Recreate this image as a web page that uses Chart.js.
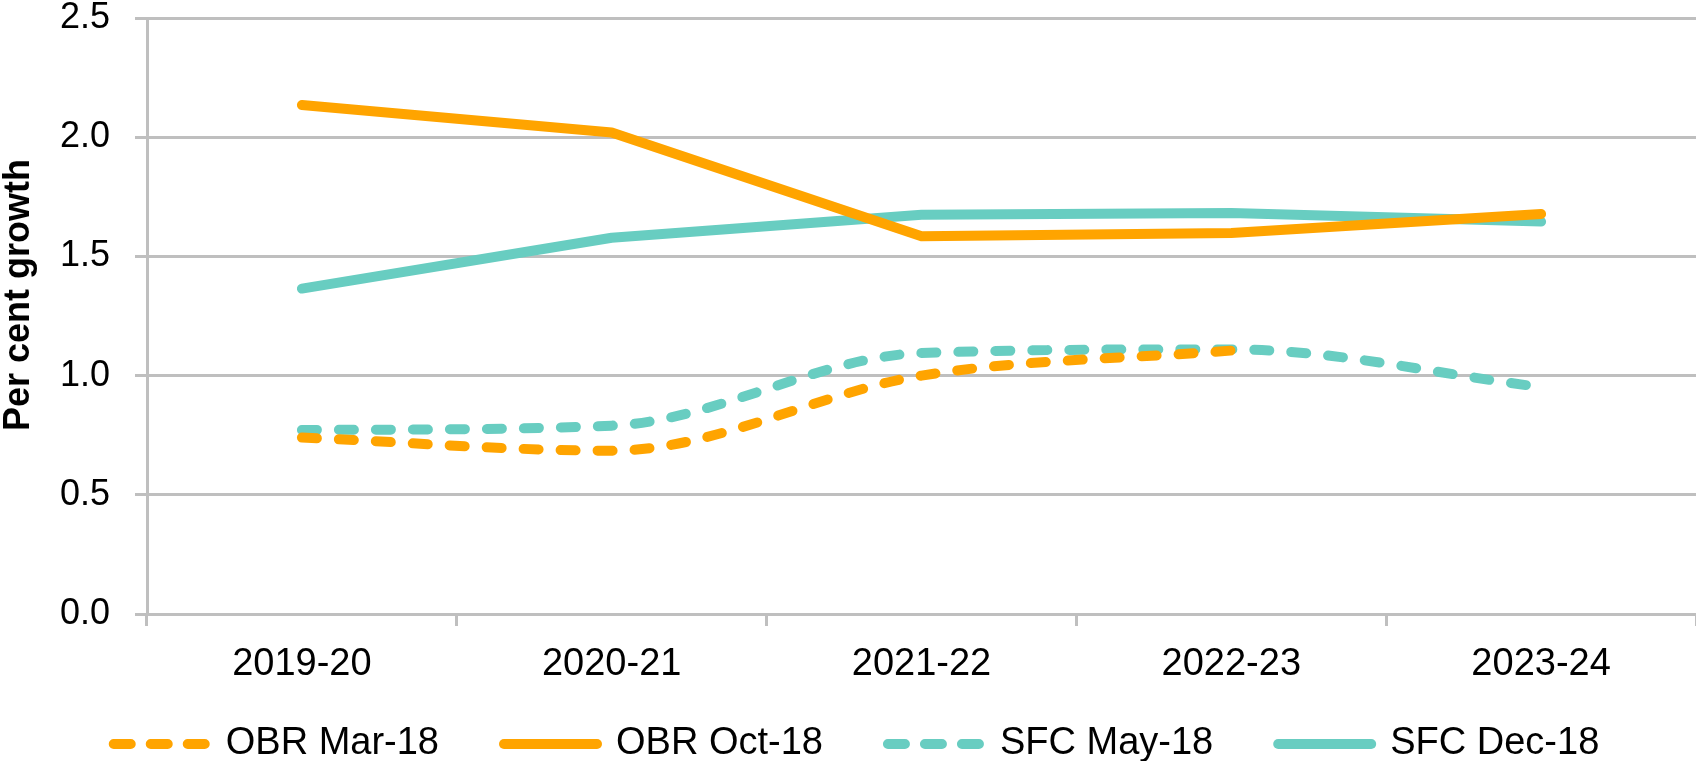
<!DOCTYPE html>
<html>
<head>
<meta charset="utf-8">
<script src="https://cdn.jsdelivr.net/npm/chart.js@4.4.1/dist/chart.umd.min.js"></script>
<style>
  html, body { margin: 0; padding: 0; background: #fff; }
  #wrap { width: 1696px; height: 761px; }
</style>
</head>
<body>
<div id="wrap"><canvas id="chart"></canvas></div>
<script>
const years = ['2019-20', '2020-21', '2021-22', '2022-23', '2023-24'];
const obrMar18 = [0.74, 0.685, 1.0, 1.105];
const obrOct18 = [2.135, 2.02, 1.585, 1.598, 1.678];
const sfcMay18 = [0.772, 0.79, 1.095, 1.11, 0.952];
const sfcDec18 = [1.365, 1.578, 1.675, 1.682, 1.646];

const orange = '#ffa400';
const teal = '#68cdc1';
const grey = '#bfbfbf';
const font = 'Liberation Sans, Arial, Helvetica, sans-serif';

Chart.defaults.font.family = font;
Chart.defaults.color = '#000';

// axis title drawn by hand so it can sit a little above the middle, like the original
const yTitle = {
  id: 'yTitle',
  afterDraw(chart) {
    const ctx = chart.ctx;
    ctx.save();
    ctx.translate(19, 295);
    ctx.rotate(-Math.PI / 2);
    ctx.font = 'bold 36px ' + font;
    ctx.fillStyle = '#000';
    ctx.textAlign = 'center';
    ctx.textBaseline = 'middle';
    ctx.fillText('Per cent growth', 0, 0);
    ctx.restore();
  }
};

function makeLine(label, data, color, dashed) {
  return {
    label,
    data,
    borderColor: color,
    backgroundColor: color,
    borderWidth: 10,
    borderDash: dashed ? [15, 22] : [],
    borderCapStyle: 'round',
    borderJoinStyle: 'round',
    cubicInterpolationMode: dashed ? 'monotone' : 'default',
    tension: 0,
    pointRadius: 0
  };
}

const ctx = document.getElementById('chart').getContext('2d');
new Chart(ctx, {
  type: 'line',
  data: {
    labels: years,
    datasets: [
      makeLine('OBR Mar-18', obrMar18, orange, true),
      makeLine('OBR Oct-18', obrOct18, orange, false),
      makeLine('SFC May-18', sfcMay18, teal, true),
      makeLine('SFC Dec-18', sfcDec18, teal, false)
    ]
  },
  options: {
    responsive: true,
    maintainAspectRatio: false,
    animation: false,
    layout: { padding: { top: 0, right: 0, bottom: -12, left: 17 } },
    plugins: {
      tooltip: { enabled: false },
      legend: {
        position: 'bottom',
        labels: {
          usePointStyle: true,
          pointStyle: 'line',
          pointStyleWidth: 93,
          padding: 65,
          font: { size: 38 },
          color: '#000',
          generateLabels(chart) {
            const items = Chart.defaults.plugins.legend.labels.generateLabels(chart);
            items.forEach(item => {
              const ds = chart.data.datasets[item.datasetIndex];
              item.lineDash = ds.borderDash.length ? [17, 20] : [];
              item.lineCap = 'round';
              item.lineWidth = 10;
              item.strokeStyle = ds.borderColor;
            });
            return items;
          }
        }
      }
    },
    scales: {
      x: {
        offset: true,
        afterFit(scale) {
          scale.height = 46;
          scale._computeLabelArea = () => undefined; // let labels spill past the short box
        },
        grid: {
          offset: true,
          drawOnChartArea: false,
          tickLength: 12,
          color: grey,
          lineWidth: 3
        },
        border: { display: true, color: grey, width: 3 },
        ticks: { font: { size: 38 }, padding: 16, color: '#000', maxRotation: 0 }
      },
      y: {
        min: 0,
        max: 2.5,
        afterFit(scale) {
          scale.width = 130;
          scale.paddingTop = 18;
          scale.paddingBottom = 0;
        },
        grid: { color: grey, lineWidth: 3, tickLength: 12 },
        border: { display: true, color: grey, width: 3 },
        ticks: {
          stepSize: 0.5,
          padding: 25,
          font: { size: 36 },
          color: '#000',
          callback: v => v.toFixed(1)
        }
      }
    }
  },
  plugins: [yTitle]
});
</script>
</body>
</html>
